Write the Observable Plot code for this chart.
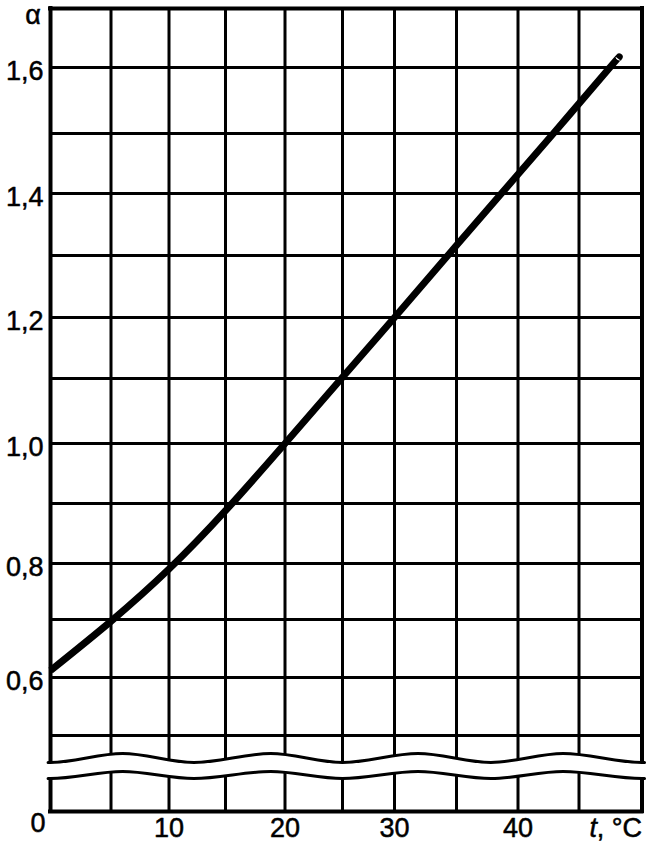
<!DOCTYPE html>
<html>
<head>
<meta charset="utf-8">
<script src="https://cdn.jsdelivr.net/npm/d3@7"></script>
<script src="https://cdn.jsdelivr.net/npm/@observablehq/plot@0.6"></script>
<style>
  html, body { margin: 0; padding: 0; background: #fff; }
  #chart svg { display: block; }
</style>
</head>
<body>
<div id="chart"></div>
<script>
// Grid positions (temperature t, °C and coefficient α)
const tempGrid = [0, 5, 10, 15, 20, 25, 30, 35, 40, 45, 50];
const alphaGrid = [0.5, 0.6, 0.7, 0.8, 0.9, 1.0, 1.1, 1.2, 1.3, 1.4, 1.5, 1.6, 1.7];
const alphaBottom = 0.375;               // the "0" baseline below the axis break
const tempLabels = [10, 20, 30, 40];
const alphaLabels = [0.6, 0.8, 1.0, 1.2, 1.4, 1.6];

// Curve α(t)
const curveT     = [0,     5,     10,    15,    20,   25,    30,   34.3, 38.65, 42.9, 47.45, 48.1];
const curveAlpha = [0.612, 0.697, 0.790, 0.888, 1.0,  1.102, 1.2,  1.3,  1.4,   1.5,  1.6,   1.615];

// Axis-break wave (upper and lower edges)
const waveT     = [-0.2,   0,      6,      12.2,   18.8,   25,     31.9,   37.8,   43.7,   50,     50.2];
const waveUpper = [0.4556, 0.4556, 0.4704, 0.4556, 0.4704, 0.4556, 0.4704, 0.4556, 0.4704, 0.4556, 0.4556];
const waveLower = [0.4293, 0.4293, 0.4408, 0.4293, 0.4408, 0.4293, 0.4408, 0.4293, 0.4408, 0.4293, 0.4293];

const curve = curveT.map((t, i) => ({t, a: curveAlpha[i]}));
const wave = waveT.map((t, i) => ({t, up: waveUpper[i], lo: waveLower[i]}));
const fmt = d => d.toFixed(1).replace(".", ",");

const font = "'Liberation Sans', Arial, Helvetica, sans-serif";
const txt = {fontSize: 27, fill: "#000", stroke: "#000", strokeWidth: 0.5};

const chart = Plot.plot({
  width: 649,
  height: 849,
  marginLeft: 50,
  marginRight: 7.5,
  marginTop: 8,
  marginBottom: 38,
  axis: null,
  style: {fontFamily: font, background: "#fff", color: "#000", overflow: "visible"},
  x: {type: "linear", domain: tempGrid,
      range: [50, 110.5, 168.5, 225, 284.5, 342, 394, 456, 517.5, 578.5, 641.5]},
  y: {type: "linear", domain: [alphaBottom, ...alphaGrid],
      range: [811, 735, 677, 619, 563, 503, 443, 378, 317, 255, 193, 133, 67, 8]},
  marks: [
    // inner grid
    Plot.ruleX(tempGrid.slice(1, -1), {y1: alphaBottom, y2: alphaGrid[alphaGrid.length - 1], stroke: "#000", strokeWidth: 3}),
    Plot.ruleY(alphaGrid.slice(0, -1), {x1: 0, x2: 50, stroke: "#000", strokeWidth: 3}),
    // frame
    Plot.ruleX([0, 50], {y1: alphaBottom, y2: alphaGrid[alphaGrid.length - 1], stroke: "#000", strokeWidth: 4, strokeLinecap: "square"}),
    Plot.ruleY([alphaBottom, alphaGrid[alphaGrid.length - 1]], {x1: 0, x2: 50, stroke: "#000", strokeWidth: 4, strokeLinecap: "square"}),
    // curve
    Plot.line(curve, {x: "t", y: "a", curve: "natural", stroke: "#000", strokeWidth: 7, strokeLinecap: "butt"}),
    // axis break
    Plot.areaY(wave, {x: "t", y1: "lo", y2: "up", curve: "monotone-x", fill: "#fff"}),
    Plot.line(wave, {x: "t", y: "up", curve: "monotone-x", stroke: "#000", strokeWidth: 3}),
    Plot.line(wave, {x: "t", y: "lo", curve: "monotone-x", stroke: "#000", strokeWidth: 3}),
    // y labels
    Plot.text(alphaLabels, {x: 0, y: d => d, text: fmt, textAnchor: "end", dx: -7, dy: 4, ...txt}),
    Plot.text(["α"], {x: 0, y: alphaGrid[alphaGrid.length - 1], text: d => d, textAnchor: "middle", dx: -17.5, dy: 7, ...txt}),
    // x labels
    Plot.text(tempLabels, {x: d => d, frameAnchor: "bottom", text: d => String(d), textAnchor: "middle", dy: 25, ...txt}),
    Plot.text(["0"], {x: 0, frameAnchor: "bottom", text: d => d, textAnchor: "middle", dx: -12.5, dy: 20, ...txt}),
    Plot.text([", °C"], {x: 50, frameAnchor: "bottom", text: d => d, textAnchor: "end", dx: 0, dy: 25, ...txt}),
    Plot.text(["t"], {x: 50, frameAnchor: "bottom", text: d => d, textAnchor: "end", dx: -45, dy: 25, fontStyle: "italic", ...txt})
  ]
});

document.getElementById("chart").appendChild(chart);
</script>
</body>
</html>
